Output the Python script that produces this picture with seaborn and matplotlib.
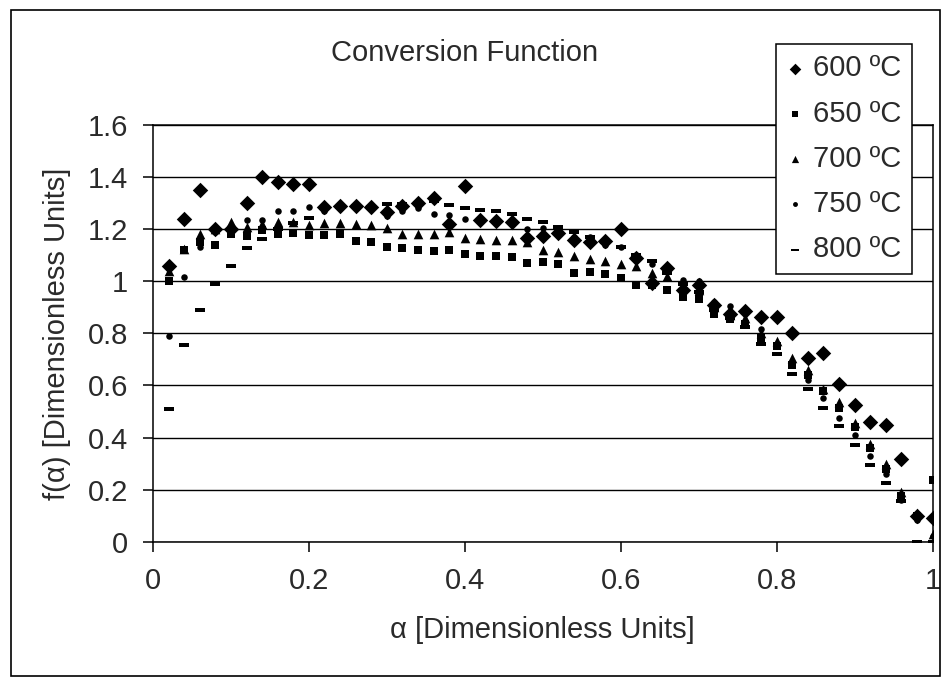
import matplotlib
matplotlib.use("Agg")
import matplotlib.pyplot as plt
import seaborn as sns
import pandas as pd
from matplotlib.patches import Rectangle

# ---------------- data ----------------
alpha = [0.02, 0.04, 0.06, 0.08, 0.10, 0.12, 0.14, 0.16, 0.18, 0.20,
         0.22, 0.24, 0.26, 0.28, 0.30, 0.32, 0.34, 0.36, 0.38, 0.40,
         0.42, 0.44, 0.46, 0.48, 0.50, 0.52, 0.54, 0.56, 0.58, 0.60,
         0.62, 0.64, 0.66, 0.68, 0.70, 0.72, 0.74, 0.76, 0.78, 0.80,
         0.82, 0.84, 0.86, 0.88, 0.90, 0.92, 0.94, 0.96, 0.98, 1.00]

f600 = [1.06, 1.24, 1.35, 1.20, 1.20, 1.30, 1.40, 1.38, 1.375, 1.375,
        1.285, 1.29, 1.29, 1.285, 1.265, 1.29, 1.30, 1.32, 1.22, 1.365,
        1.235, 1.23, 1.228, 1.165, 1.175, 1.185, 1.16, 1.15, 1.155, 1.20,
        1.09, 0.995, 1.05, 0.967, 0.985, 0.91, 0.873, 0.885, 0.863, 0.863,
        0.80, 0.707, 0.726, 0.605, 0.525, 0.46, 0.447, 0.318, 0.10, 0.09]

f650 = [1.00, 1.12, 1.15, 1.14, 1.18, 1.175, 1.196, 1.183, 1.187, 1.177,
        1.177, 1.18, 1.154, 1.149, 1.132, 1.126, 1.12, 1.116, 1.12, 1.104,
        1.097, 1.097, 1.094, 1.072, 1.075, 1.065, 1.03, 1.035, 1.026, 1.013,
        0.987, 0.985, 0.967, 0.94, 0.93, 0.875, 0.854, 0.834, 0.783, 0.75,
        0.68, 0.64, 0.578, 0.515, 0.44, 0.36, 0.28, 0.175, 0.10, 0.235]

f700 = [1.04, 1.125, 1.18, 1.20, 1.228, 1.21, 1.22, 1.228, 1.228, 1.215,
        1.222, 1.222, 1.22, 1.215, 1.203, 1.183, 1.18, 1.18, 1.19, 1.167,
        1.164, 1.158, 1.158, 1.15, 1.12, 1.111, 1.098, 1.085, 1.078, 1.065,
        1.06, 1.03, 1.02, 0.985, 0.967, 0.90, 0.87, 0.86, 0.80, 0.77,
        0.707, 0.66, 0.585, 0.535, 0.455, 0.375, 0.30, 0.19, 0.11, 0.03]

f750 = [0.79, 1.015, 1.13, 1.19, 1.21, 1.234, 1.237, 1.269, 1.27, 1.285,
        1.27, 1.28, 1.285, 1.28, 1.25, 1.27, 1.28, 1.26, 1.254, 1.24,
        1.23, 1.225, 1.22, 1.20, 1.203, 1.205, 1.17, 1.17, 1.14, 1.13,
        1.10, 1.065, 1.04, 1.006, 1.00, 0.92, 0.905, 0.845, 0.815, 0.76,
        0.69, 0.62, 0.55, 0.475, 0.41, 0.33, 0.26, 0.16, 0.085, 0.02]

f800 = [0.51, 0.755, 0.89, 0.99, 1.06, 1.126, 1.164, 1.20, 1.225, 1.243,
        1.28, 1.285, 1.29, 1.285, 1.298, 1.295, 1.30, 1.31, 1.292, 1.282,
        1.273, 1.27, 1.26, 1.24, 1.226, 1.21, 1.19, 1.17, 1.15, 1.13,
        1.10, 1.078, 1.03, 0.99, 0.96, 0.89, 0.86, 0.825, 0.76, 0.72,
        0.645, 0.585, 0.515, 0.445, 0.37, 0.295, 0.225, 0.155, 0.0, 0.0]

series_names = ["600 ºC", "650 ºC", "700 ºC", "750 ºC", "800 ºC"]
series_vals = [f600, f650, f700, f750, f800]

x_ticks = [0, 0.2, 0.4, 0.6, 0.8, 1.0]
x_ticklabels = ["0", "0.2", "0.4", "0.6", "0.8", "1"]
y_ticks = [0, 0.2, 0.4, 0.6, 0.8, 1.0, 1.2, 1.4, 1.6]
y_ticklabels = ["0", "0.2", "0.4", "0.6", "0.8", "1", "1.2", "1.4", "1.6"]

title = "Conversion Function"
xlabel = "α [Dimensionless Units]"
ylabel = "f(α) [Dimensionless Units]"

# ---------------- style ----------------
sns.set_theme(style="white")
plt.rcParams['font.family'] = ['Liberation Sans', 'DejaVu Sans']
FS = 21
TXT = "#2a2a2a"

dash = [(-1, -0.28), (1, -0.28), (1, 0.28), (-1, 0.28)]
styles = {
    "600 ºC": dict(marker="D", s=62),
    "650 ºC": dict(marker="s", s=40),
    "700 ºC": dict(marker="^", s=48),
    "750 ºC": dict(marker="o", s=22),
    "800 ºC": dict(marker=dash, s=60),
}

df = pd.concat([pd.DataFrame({"alpha": alpha, "f": v, "T": n})
                for n, v in zip(series_names, series_vals)], ignore_index=True)

W, H = 946, 677
fig = plt.figure(figsize=(W / 100, H / 100), dpi=100)
fig.patch.set_facecolor("white")
left, right, top, bottom = 153, 932.5, 125, 541.7
ax = fig.add_axes([left / W, 1 - bottom / H, (right - left) / W, (bottom - top) / H])
ax.set_facecolor("white")

for n in series_names:
    sub = df[df["T"] == n]
    sns.scatterplot(data=sub, x="alpha", y="f", ax=ax, color="black",
                    linewidth=0, label=n, zorder=3, **styles[n])

ax.set_xlim(0, 1)
ax.set_ylim(0, 1.6)
ax.set_xticks(x_ticks)
ax.set_xticklabels(x_ticklabels, fontsize=FS, color=TXT)
ax.set_yticks(y_ticks)
ax.set_yticklabels(y_ticklabels, fontsize=FS, color=TXT)
ax.set_xlabel("")
ax.set_ylabel("")
ax.tick_params(axis="both", direction="out", length=7, width=1.1,
               color="black", pad=11, left=True, bottom=True)
ax.yaxis.grid(True, color="black", linewidth=1.0)
ax.xaxis.grid(False)
ax.set_axisbelow(True)
for sp in ax.spines.values():
    sp.set_color("black")
    sp.set_linewidth(1.1)
    sp.set_visible(True)

leg = ax.legend(loc="upper left", bbox_to_anchor=(776 / W, 1 - 44 / H),
                bbox_transform=fig.transFigure, frameon=True, fancybox=False,
                framealpha=1, edgecolor="black", fontsize=FS,
                markerscale=0.75, handlelength=0.6, handletextpad=0.3,
                labelspacing=0.59, borderpad=0.36, borderaxespad=0)
leg.get_frame().set_linewidth(1.1)
leg.set_zorder(10)
for t in leg.get_texts():
    t.set_color(TXT)

fig.text(465 / W, 1 - 53 / H, title, ha="center", va="center", fontsize=FS, color=TXT)
fig.text((left + right) / 2 / W, 1 - 630 / H, xlabel, ha="center", va="center",
         fontsize=FS, color=TXT)
fig.text(57 / W, 1 - (top + bottom) / 2 / H, ylabel, ha="center", va="center",
         rotation=90, fontsize=FS, color=TXT)

fig.add_artist(Rectangle((11 / W, 1 / H), (940 - 11) / W, (676 - 10) / H,
                         transform=fig.transFigure, fill=False,
                         edgecolor="black", linewidth=1.2))

fig.savefig("out.png", dpi=100, facecolor="white")
